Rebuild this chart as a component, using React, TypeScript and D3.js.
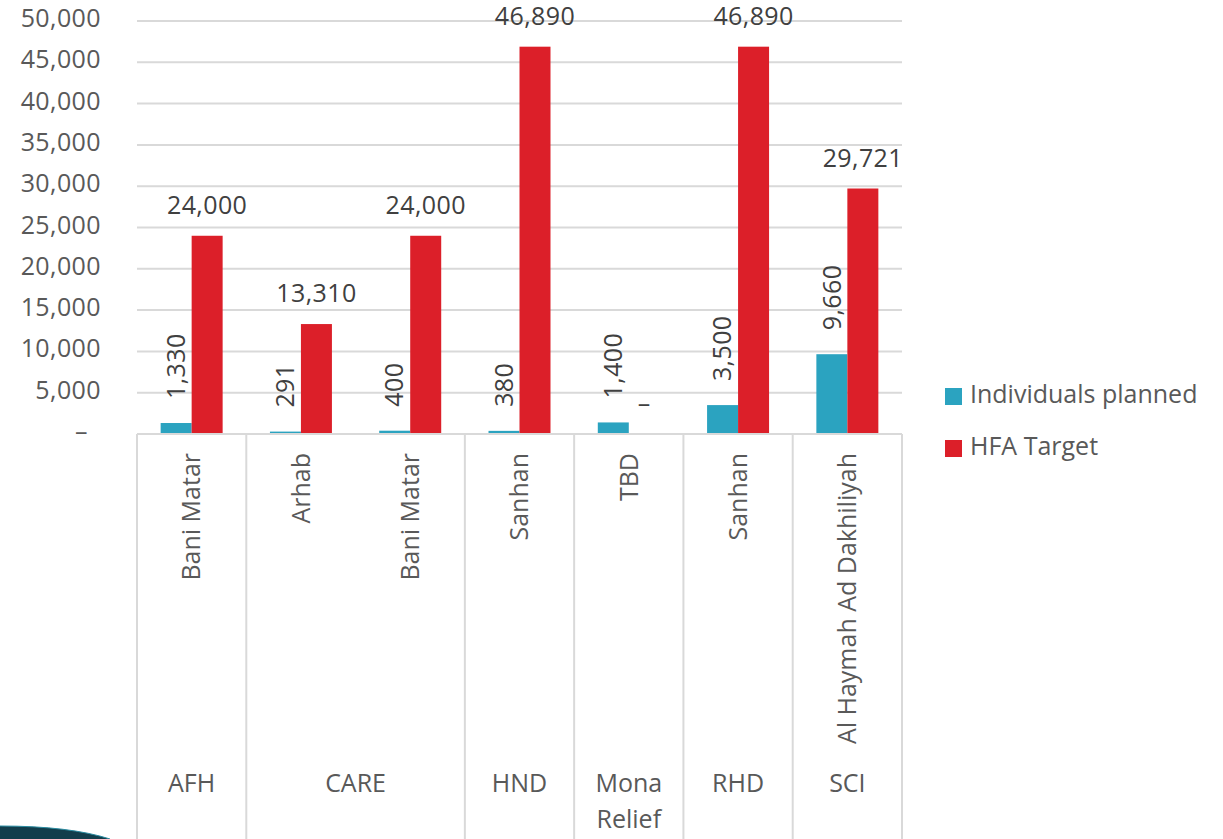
import * as d3 from "d3";

const groups = ["AFH", "CARE", "CARE", "HND", "Mona Relief", "RHD", "SCI"];
const districts = ["Bani Matar", "Arhab", "Bani Matar", "Sanhan", "TBD", "Sanhan", "Al Haymah Ad Dakhiliyah"];
const individualsPlanned = [1330, 291, 400, 380, 1400, 3500, 9660];
const hfaTarget = [24000, 13310, 24000, 46890, 0, 46890, 29721];
const yTicks = [0, 5000, 10000, 15000, 20000, 25000, 30000, 35000, 40000, 45000, 50000];

const seriesNames = ["Individuals planned", "HFA Target"];
const colors = ["#2ba3c0", "#dc1f29"];

const W = 1223;
const H = 839;
const left = 137;
const right = 902;
const top = 21;
const base = 434;
const font = "'Open Sans', sans-serif";
const fs = 25;

const fmt = (v: number) => (v === 0 ? "–" : d3.format(",")(v));

export default function App() {
  const idx = districts.map((_, i) => i);
  const x = d3.scaleBand<number>().domain(idx).range([left, right]).padding(0);
  const x1 = d3
    .scaleBand<number>()
    .domain([0, 1])
    .range([0, x.bandwidth()])
    .paddingInner(0)
    .paddingOuter(0.763);
  const y = d3.scaleLinear().domain([0, 50000]).range([base, top]);

  // group spans for the lower label table
  const spans: { name: string; start: number; end: number }[] = [];
  groups.forEach((g, i) => {
    const last = spans[spans.length - 1];
    if (last && last.name === g) last.end = i;
    else spans.push({ name: g, start: i, end: i });
  });
  const spanX0 = (s: { start: number }) => x(s.start)!;
  const spanX1 = (s: { end: number }) => x(s.end)! + x.bandwidth();

  const series = [individualsPlanned, hfaTarget];

  return (
    <div style={{ position: "absolute", left: 0, top: 0 }}>
      <svg width={W} height={H} style={{ display: "block", fontFamily: font }}>
        <rect width={W} height={H} fill="#ffffff" />

        {/* gridlines and y ticks */}
        {yTicks.map((t) => (
          <g key={t}>
            {t > 0 && <line x1={left} x2={right} y1={y(t)} y2={y(t)} stroke="#d9d9d9" strokeWidth={2} />}
            <text
              x={t === 0 ? 88 : 101}
              y={y(t) + 6}
              textAnchor="end"
              fontSize={fs}
              letterSpacing={0.4}
              fill="#595959"
            >
              {fmt(t)}
            </text>
          </g>
        ))}

        {/* bars */}
        {series.map((vals, s) =>
          vals.map((v, i) => (
            <rect
              key={`${s}-${i}`}
              x={x(i)! + x1(s)!}
              y={y(v)}
              width={x1.bandwidth()}
              height={base - y(v)}
              fill={colors[s]}
            />
          ))
        )}

        {/* axis baseline and table lines */}
        <line x1={left} x2={right} y1={base} y2={base} stroke="#d9d9d9" strokeWidth={2} />
        {spans.map((s) => (
          <line key={`l${s.start}`} x1={spanX0(s)} x2={spanX0(s)} y1={base} y2={H} stroke="#d9d9d9" strokeWidth={2} />
        ))}
        <line x1={right} x2={right} y1={base} y2={H} stroke="#d9d9d9" strokeWidth={2} />

        {/* data labels: individuals (rotated) */}
        {individualsPlanned.map((v, i) => {
          const cx = x(i)! + x1(0)! + x1.bandwidth() / 2;
          const cy = y(v) - 24;
          return (
            <text
              key={`li${i}`}
              transform={`translate(${cx},${cy}) rotate(-90)`}
              dy="0.35em"
              textAnchor="start"
              fontSize={fs}
              letterSpacing={0.4}
              fill="#404040"
            >
              {fmt(v)}
            </text>
          );
        })}

        {/* data labels: HFA target */}
        {hfaTarget.map((v, i) => (
          <text
            key={`lh${i}`}
            x={x(i)! + x1(1)! + x1.bandwidth() / 2}
            y={y(v) - 22}
            textAnchor="middle"
            fontSize={fs}
            letterSpacing={0.4}
            fill="#404040"
          >
            {fmt(v)}
          </text>
        ))}

        {/* district labels */}
        {districts.map((d, i) => (
          <text
            key={`d${i}`}
            transform={`translate(${x(i)! + x.bandwidth() / 2},${base + 19}) rotate(-90)`}
            dy="0.35em"
            textAnchor="end"
            fontSize={fs}
            fill="#595959"
          >
            {d}
          </text>
        ))}

        {/* group labels */}
        {spans.map((s) => {
          const cx = (spanX0(s) + spanX1(s)) / 2;
          const words = s.name.split(" ");
          return (
            <text key={`g${s.start}`} x={cx} y={792} textAnchor="middle" fontSize={fs} fill="#595959">
              {words.map((w, k) => (
                <tspan key={k} x={cx} dy={k === 0 ? 0 : 36}>
                  {w}
                </tspan>
              ))}
            </text>
          );
        })}

        {/* legend */}
        {seriesNames.map((n, s) => (
          <g key={n} transform={`translate(945,${388 + s * 52})`}>
            <rect width={17} height={17} fill={colors[s]} />
            <text x={25} y={15} fontSize={fs} fill="#595959">
              {n}
            </text>
          </g>
        ))}

        {/* slide decoration at bottom-left */}
        <path d="M0,826 Q70,826 110,839 L0,839 Z" fill="#123e4c" />
        <path d="M0,826 Q70,826 110,839" fill="none" stroke="#2a8ba0" strokeWidth={1} />
      </svg>
    </div>
  );
}
